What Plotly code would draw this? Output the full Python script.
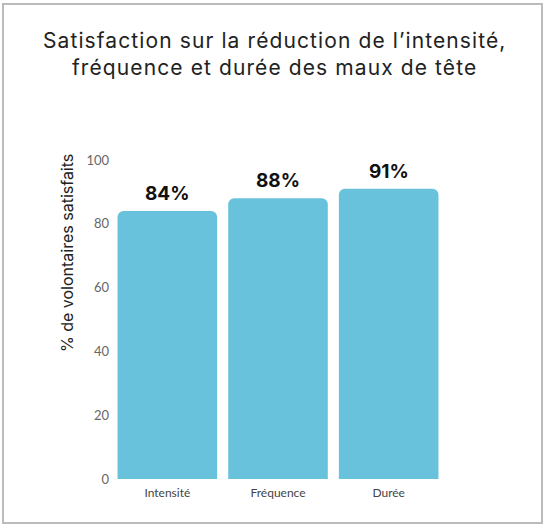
import plotly.graph_objects as go

categories = ["Intensité", "Fréquence", "Durée"]
values = [84, 88, 91]
labels = ["84%", "88%", "91%"]
y_ticks = [0, 20, 40, 60, 80, 100]
title_lines = ["Satisfaction sur la réduction de l’intensité,", "fréquence et durée des maux de tête"]
y_title = "% de volontaires satisfaits"

W, H = 550, 528
def px(x): return x / W
def py(y): return 1 - y / H

fig = go.Figure()
fig.add_trace(go.Bar(
    x=categories, y=values,
    marker=dict(color="#69C2DC", line=dict(width=0)),
    hoverinfo="skip",
))
annotations = [
    dict(text=f"<b>{t}</b>", x=c, y=v, xref="x", yref="y", xanchor="center", yanchor="bottom",
         yshift=4, showarrow=False, font=dict(family="Inter", size=19, color="#111"))
    for c, v, t in zip(categories, values, labels)
]
annotations += [
    dict(text=f'<span style="letter-spacing:1.1px">{title_lines[0]}</span>', xref="paper", yref="paper",
         x=px(274), y=py(41), xanchor="center", yanchor="middle", showarrow=False,
         font=dict(family="Inter", size=21, color="#222")),
    dict(text=f'<span style="letter-spacing:1.1px">{title_lines[1]}</span>', xref="paper", yref="paper",
         x=px(274), y=py(67), xanchor="center", yanchor="middle", showarrow=False,
         font=dict(family="Inter", size=21, color="#222")),
    dict(text=y_title, xref="paper", yref="paper",
         x=px(67), y=py(253), textangle=-90, xanchor="center", yanchor="middle",
         showarrow=False, font=dict(family="Inter", size=16, color="#222")),
]
fig.update_layout(
    width=W, height=H, margin=dict(l=0, r=0, t=0, b=0, autoexpand=False),
    paper_bgcolor="white", plot_bgcolor="white",
    showlegend=False, bargap=0.1, barcornerradius=6,
    xaxis=dict(domain=[px(112), px(444)], showgrid=False, zeroline=False, showline=False,
               ticks="", automargin=False, ticklabelstandoff=5,
               tickfont=dict(family="Lato", size=12, color="#444")),
    yaxis=dict(domain=[py(479), py(160)], range=[0, 100], tickvals=y_ticks,
               showgrid=False, zeroline=False, showline=False, ticks="", automargin=False,
               ticklabelstandoff=2,
               tickfont=dict(family="Lato", size=13, color="#666")),
    shapes=[dict(type="rect", xref="paper", yref="paper",
                 x0=px(3), x1=px(542), y0=py(523), y1=py(4),
                 line=dict(color="#BBBBBB", width=2), fillcolor="rgba(0,0,0,0)")],
    annotations=annotations,
)
fig.write_html("out.html")
